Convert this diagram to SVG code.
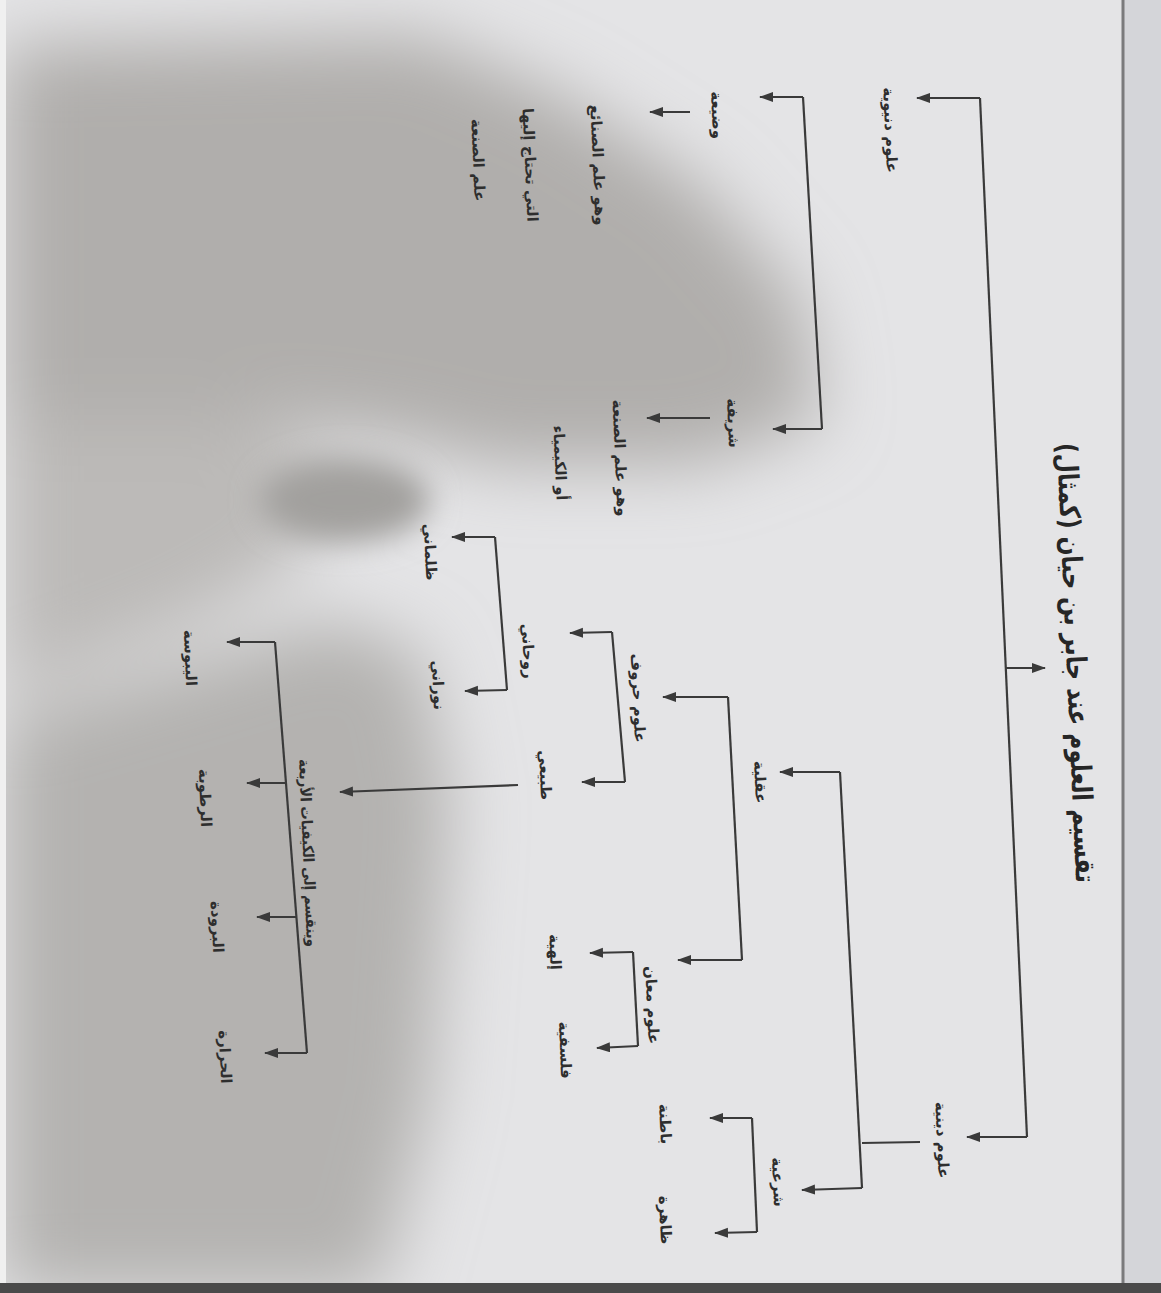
<svg xmlns="http://www.w3.org/2000/svg" width="1161" height="1293" viewBox="0 0 1161 1293">
<defs>
<style>
.lbl{font-family:"DejaVu Sans","Noto Sans",sans-serif;font-weight:bold;font-size:15px;fill:#2e2e2e;text-anchor:middle;dominant-baseline:central;direction:rtl}
.ttl{font-size:28px;fill:#262626}
.ln{fill:none;stroke:#3a3a3a;stroke-width:2.2}
.ar{fill:none;stroke:#3a3a3a;stroke-width:2.2;marker-end:url(#ah)}
</style>
<marker id="ah" markerUnits="userSpaceOnUse" markerWidth="16" markerHeight="12" refX="13" refY="5" orient="auto">
<path d="M0,0 L14,5 L0,10 Z" fill="#3a3a3a"/>
</marker>
<filter id="blur" x="-50%" y="-50%" width="200%" height="200%"><feGaussianBlur stdDeviation="35"/></filter>
<filter id="blur2" x="-50%" y="-50%" width="200%" height="200%"><feGaussianBlur stdDeviation="15"/></filter>
</defs>
<g id="background">
<rect x="0" y="0" width="1161" height="1293" fill="#e4e4e6"/>
<g filter="url(#blur)">
<polygon fill="#b0aeac" points="0,45 420,35 560,95 700,185 800,300 820,420 700,465 500,465 400,440 250,420 0,420"/>
<polygon fill="#b4b2b0" points="0,720 200,660 330,620 420,650 450,800 430,1100 380,1293 0,1293"/>
<polygon fill="#bcbab8" points="0,420 250,420 330,470 300,560 200,620 0,700"/>
</g>
<g filter="url(#blur2)" fill="#a2a09e">
<ellipse cx="345" cy="500" rx="85" ry="42"/>
</g>
<rect x="0" y="0" width="6" height="1293" fill="#f0f0f0"/>
<rect x="1122" y="0" width="39" height="1293" fill="#d4d5d9"/>
<line x1="1123" y1="0" x2="1123" y2="1293" stroke="#7a7a7c" stroke-width="3"/>
<rect x="0" y="1283" width="1161" height="10" fill="#4a4a4a"/>
</g>
<g id="connectors">
<path class="ln" d="M980,98 L1027,1137"/>
<path class="ar" d="M980,98 L917,98"/>
<path class="ar" d="M1027,1137 L967,1137"/>
<path class="ar" d="M1005,668 L1045,668"/>
<path class="ln" d="M803,97 L822,429"/>
<path class="ar" d="M803,97 L760,97"/>
<path class="ar" d="M822,429 L773,429"/>
<path class="ar" d="M690,112 L650,112"/>
<path class="ar" d="M710,418 L647,418"/>
<path class="ln" d="M840,772 L862,1188"/>
<path class="ar" d="M840,772 L780,772"/>
<path class="ar" d="M862,1188 L802,1190"/>
<path class="ln" d="M920,1142 L862,1143"/>
<path class="ln" d="M752,1118 L757,1232"/>
<path class="ar" d="M752,1118 L710,1118"/>
<path class="ar" d="M757,1232 L715,1233"/>
<path class="ln" d="M728,697 L742,960"/>
<path class="ar" d="M728,697 L663,697"/>
<path class="ar" d="M742,960 L678,960"/>
<path class="ln" d="M633,952 L638,1046"/>
<path class="ar" d="M633,952 L590,953"/>
<path class="ar" d="M638,1046 L597,1048"/>
<path class="ln" d="M612,632 L625,782"/>
<path class="ar" d="M612,632 L570,633"/>
<path class="ar" d="M625,782 L582,782"/>
<path class="ln" d="M495,537 L507,690"/>
<path class="ar" d="M495,537 L452,537"/>
<path class="ar" d="M507,690 L465,691"/>
<path class="ar" d="M518,785 L340,792"/>
<path class="ln" d="M275,642 L307,1053"/>
<path class="ar" d="M275,642 L227,642"/>
<path class="ar" d="M286,783 L247,783"/>
<path class="ar" d="M297,917 L257,917"/>
<path class="ar" d="M307,1053 L265,1053"/>
</g>
<g id="title"><text class="lbl ttl" transform="translate(1076,663) rotate(87.5)" textLength="440" lengthAdjust="spacingAndGlyphs">تقسيم العلوم عند جابر بن حيان (كمثال)</text></g>
<g id="n-dunyawiya"><text class="lbl" transform="translate(890,130) rotate(87.5)">علوم دنيوية</text></g>
<g id="n-diniya"><text class="lbl" transform="translate(942,1140) rotate(87.5)">علوم دينية</text></g>
<g id="n-wadia"><text class="lbl" transform="translate(717,115) rotate(87.5)">وضيعة</text></g>
<g id="n-wadia-desc">
<text class="lbl" transform="translate(598,165) rotate(87.5)">وهو علم الصنائع</text>
<text class="lbl" transform="translate(530,165) rotate(87.5)">التي تحتاج إليها</text>
<text class="lbl" transform="translate(478,160) rotate(87.5)">علم الصنعة</text>
</g>
<g id="n-sharifa"><text class="lbl" transform="translate(733,423) rotate(87.5)">شريفة</text></g>
<g id="n-sharifa-desc">
<text class="lbl" transform="translate(620,458) rotate(87.5)">وهو علم الصنعة</text>
<text class="lbl" transform="translate(560,463) rotate(87.5)">أو الكيمياء</text>
</g>
<g id="n-shariya"><text class="lbl" transform="translate(778,1182) rotate(87.5)">شرعية</text></g>
<g id="n-batina"><text class="lbl" transform="translate(665,1124) rotate(87.5)">باطنة</text></g>
<g id="n-zahira"><text class="lbl" transform="translate(665,1220) rotate(87.5)">ظاهرة</text></g>
<g id="n-aqliya"><text class="lbl" transform="translate(760,782) rotate(87.5)">عقلية</text></g>
<g id="n-maani"><text class="lbl" transform="translate(652,1005) rotate(87.5)">علوم معان</text></g>
<g id="n-ilahiya"><text class="lbl" transform="translate(555,952) rotate(87.5)">إلهية</text></g>
<g id="n-falsafiya"><text class="lbl" transform="translate(565,1050) rotate(87.5)">فلسفية</text></g>
<g id="n-huruf"><text class="lbl" transform="translate(638,698) rotate(87.5)">علوم حروف</text></g>
<g id="n-ruhani"><text class="lbl" transform="translate(528,651) rotate(87.5)">روحاني</text></g>
<g id="n-tabii"><text class="lbl" transform="translate(545,775) rotate(87.5)">طبيعي</text></g>
<g id="n-zulmani"><text class="lbl" transform="translate(430,552) rotate(87.5)">ظلماني</text></g>
<g id="n-nurani"><text class="lbl" transform="translate(438,685) rotate(87.5)">نوراني</text></g>
<g id="n-kayfiyat"><text class="lbl" transform="translate(308,853) rotate(87.5)" textLength="188" lengthAdjust="spacingAndGlyphs">وينقسم إلى الكيفيات الأربعة</text></g>
<g id="n-yubusa"><text class="lbl" transform="translate(190,658) rotate(87.5)">اليبوسة</text></g>
<g id="n-rutuba"><text class="lbl" transform="translate(205,798) rotate(87.5)">الرطوبة</text></g>
<g id="n-buruda"><text class="lbl" transform="translate(217,927) rotate(87.5)">البرودة</text></g>
<g id="n-harara"><text class="lbl" transform="translate(225,1057) rotate(87.5)">الحرارة</text></g>
</svg>
